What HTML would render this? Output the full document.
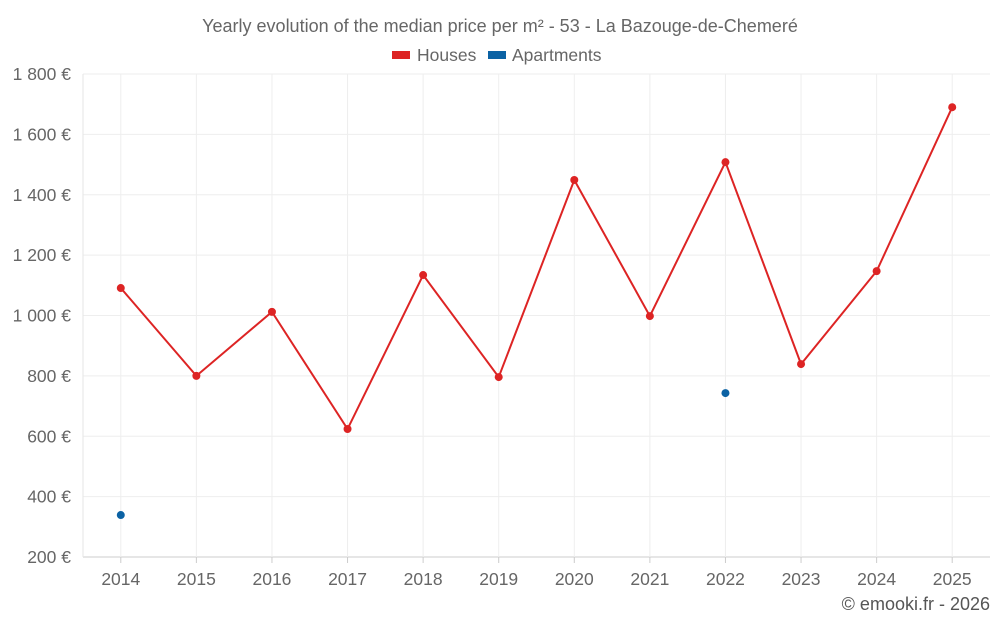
<!DOCTYPE html>
<html><head><meta charset="utf-8"><style>
html,body{margin:0;padding:0;background:#fff;}
svg{display:block;font-family:"Liberation Sans",sans-serif;}
</style></head><body>
<svg id="chart" width="1000" height="625" viewBox="0 0 1000 625">
<text x="500" y="32" text-anchor="middle" font-size="18" fill="#666">Yearly evolution of the median price per m² - 53 - La Bazouge-de-Chemeré</text>
<g>
<g><rect x="392" y="51" width="18" height="8" fill="#dd2424"/><text x="417" y="61" font-size="17.5" fill="#666">Houses</text></g>
<g><rect x="488" y="51" width="18" height="8" fill="#0b62a4"/><text x="512" y="61" font-size="17.5" fill="#666">Apartments</text></g>
</g>
<g id="grid"></g>
<g id="yaxis"></g>
<g id="xaxis"></g>
<g id="series"></g>
<text x="990" y="610" text-anchor="end" font-size="18" fill="#555">© emooki.fr - 2026</text>
</svg>
<script>
const years=["2014","2015","2016","2017","2018","2019","2020","2021","2022","2023","2024","2025"];
const houses=[1091,800,1012,624,1134,796,1449,998,1508,839,1147,1690];
const apartments=[339,null,null,null,null,null,null,null,743,null,null,null];
const yTicks=[200,400,600,800,1000,1200,1400,1600,1800];
const yLabels=["200 €","400 €","600 €","800 €","1 000 €","1 200 €","1 400 €","1 600 €","1 800 €"];

const NS="http://www.w3.org/2000/svg";
const L=83,R=990,T=74,B=557,ymin=200,ymax=1800;
const band=(R-L)/years.length;
const xs=i=>L+band*(i+0.5);
const ys=v=>B-(v-ymin)/(ymax-ymin)*(B-T);
function mk(tag,attrs,parent){const e=document.createElementNS(NS,tag);for(const k in attrs)e.setAttribute(k,attrs[k]);parent.appendChild(e);return e;}
const grid=document.getElementById('grid'),ya=document.getElementById('yaxis'),xa=document.getElementById('xaxis'),se=document.getElementById('series');
yTicks.forEach((v,i)=>{
  const l=mk('line',{x1:L,x2:R,y1:ys(v),y2:ys(v),stroke:i===0?'#ccc':'#eee','stroke-width':1},grid);
  
  
  const t=mk('text',{x:71,y:ys(v)+6,'text-anchor':'end','font-size':17.5,fill:'#666'},ya);
  t.textContent=yLabels[i];
  
  
});
const ax=mk('line',{x1:L,x2:L,y1:T,y2:B,stroke:'#e6e6e6','stroke-width':1},grid);


years.forEach((y,i)=>{
  const g=mk('line',{x1:xs(i),x2:xs(i),y1:T,y2:B,stroke:'#eee','stroke-width':1},grid);
  
  
  const tk=mk('line',{x1:xs(i),x2:xs(i),y1:B,y2:B+6,stroke:'#ccc'},xa);
  
  
  const t=mk('text',{x:xs(i),y:585,'text-anchor':'middle','font-size':17.5,fill:'#666'},xa);
  t.textContent=y;
  
  
});
const pts=houses.map((v,i)=>xs(i)+','+ys(v)).join(' ');
const pl=mk('polyline',{points:pts,fill:'none',stroke:'#dd2424','stroke-width':2},se);


houses.forEach((v,i)=>{
  const c=mk('circle',{cx:xs(i),cy:ys(v),r:4,fill:'#dd2424'},se);
  
  
});
apartments.forEach((v,i)=>{
  if(v==null)return;
  const c=mk('circle',{cx:xs(i),cy:ys(v),r:4,fill:'#0b62a4'},se);
  
  
});
</script>
</body></html>
